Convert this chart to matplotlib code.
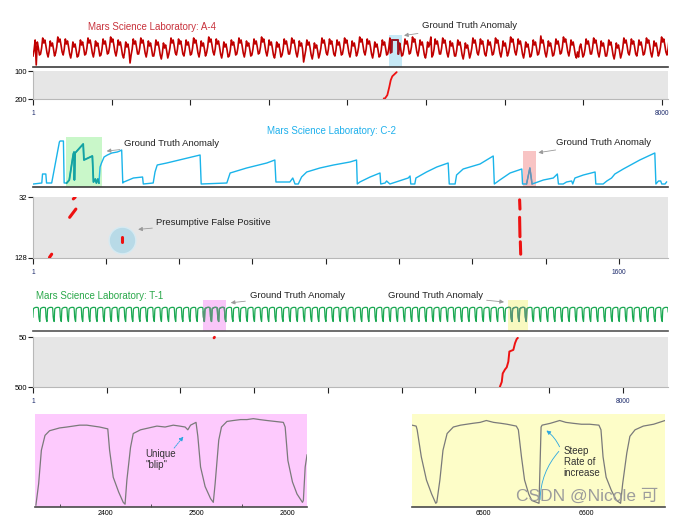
import numpy as np
import matplotlib.pyplot as plt

plt.rcParams['font.family'] = ['Liberation Sans', 'DejaVu Sans']

# ---------------- data ----------------
# A-4 (telemetry, one jagged cycle repeated, plus read spikes)
a4_xmax = 8078
a4_period = 96
a4_cycle = [11, 17, 27, 22, 25, 19, 12]
a4_shift = [0, 2, -1, 3, 1, -2, 0, 2, -1, 1, 3, 0, -2, 1, 2, -1, 0, -3, 2, 1]
a4_spike_t = [48, 1235, 3448, 5060, 6459, 6934]
a4_spike_level = [2, 4, 5, 30, 31, 10]
a4_anom_t = [4548, 4562, 4566, 4644, 4648, 4662]
a4_anom_level = [14, 15, 27, 27, 13, 20]
a4_span = [4529, 4691]
a4_det_t = [4462, 4478, 4508, 4533, 4551, 4571, 4627]
a4_det_val = [198, 198, 186, 157, 133, 119, 104]
a4_ticks = [1, 1000, 2000, 3000, 4000, 5000, 6000, 7000, 8000]

# C-2
c2_xmax = 1734
c2_before_t = [2, 25, 27, 36, 38, 52, 73, 75, 84, 86]
c2_before_l = [3, 4, 13, 13, 4, 4, 45, 46, 46, 4]
c2_anom_t = [93, 100, 111, 113, 114, 116, 138, 140, 163, 166, 171, 174, 178, 181]
c2_anom_l = [4, 7, 33, 35, 7, 34, 43, 27, 31, 5, 8, 4, 8, 4]
c2_after_t = [184, 188, 195, 204, 216, 231, 238, 243, 246, 249,
              275, 300, 302, 329, 334, 340, 366, 457, 460, 530,
              539, 548, 584, 639, 661, 664, 702, 710, 716, 725,
              734, 748, 784, 821, 866, 884, 886, 893, 921, 948,
              950, 962, 966, 975, 1025, 1030, 1032, 1043, 1046, 1075,
              1103, 1134, 1137, 1153, 1157, 1175, 1221, 1257, 1260, 1275,
              1303, 1335, 1337, 1348, 1357, 1363, 1371, 1394, 1421, 1432,
              1435, 1448, 1457, 1471, 1474, 1480, 1503, 1535, 1537, 1557,
              1567, 1580, 1589, 1612, 1657, 1698, 1701, 1708, 1714, 1717,
              1726, 1730]
c2_after_l = [20, 24, 30, 32, 34, 35, 36, 37, 4, 5,
              9, 10, 3, 4, 15, 22, 24, 32, 3, 4,
              14, 15, 19, 24, 27, 5, 5, 9, 3, 3,
              10, 15, 19, 22, 25, 27, 3, 5, 10, 14,
              3, 4, 6, 3, 9, 11, 3, 3, 9, 15,
              20, 24, 3, 3, 12, 18, 23, 31, 3, 7,
              14, 18, 3, 3, 19, 3, 4, 7, 9, 13,
              3, 3, 5, 6, 3, 9, 12, 15, 3, 3,
              6, 9, 13, 18, 27, 34, 3, 6, 6, 3,
              3, 5]
c2_spike_t = [1348, 1357, 1363]
c2_spike_l = [3, 19, 3]
c2_span_green = [91, 189]
c2_span_red = [1338, 1374]
c2_det_t0 = [46, 101, 111, 245, 1329, 1329, 1331]
c2_det_t1 = [52, 118, 116, 245, 1330, 1330, 1332]
c2_det_v0 = [127, 64, 35, 95, 36.5, 64, 102.5]
c2_det_v1 = [122, 51, 32.5, 103, 51, 94.5, 122]
c2_fp_t, c2_fp_v = 245, 99
c2_ticks = [1, 200, 400, 600, 800, 1000, 1200, 1400, 1600]

# T-1 (one cycle, repeated)
t1_xmax = 8611
t1_start = -3
t1_period = 97
t1_cycle_dt = [0, 2, 6, 9, 17, 35, 53, 70, 76, 80, 83, 88, 94]
t1_cycle_lv = [3, 29, 64, 79, 83, 87, 88, 87, 84, 61, 32, 16, 5]
t1_span_pink = [2308, 2616]
t1_span_yellow = [6446, 6714]
t1_dot_t = [2455, 2462]
t1_dot_v = [58, 52]
t1_det_t = [6334, 6357, 6370, 6401, 6424, 6446, 6460, 6492, 6514, 6537, 6560, 6573]
t1_det_v = [494, 454, 378, 342, 323, 272, 181, 172, 166, 105, 68, 59]
t1_ticks = [1, 1000, 2000, 3000, 4000, 5000, 6000, 7000, 8000]

# zoomed panels
pink_t = [2324, 2327, 2330, 2334, 2339, 2350, 2358, 2365, 2372, 2380,
          2387, 2394, 2403, 2405, 2409, 2415, 2420, 2422, 2424, 2428,
          2431, 2439, 2448, 2457, 2466, 2475, 2482, 2488, 2491, 2494,
          2500, 2502, 2505, 2510, 2516, 2519, 2521, 2525, 2528, 2534,
          2541, 2549, 2556, 2563, 2570, 2578, 2587, 2596, 2598, 2601,
          2606, 2611, 2617, 2618, 2620, 2622]
pink_l = [2, 25, 61, 77, 82, 85, 86, 87, 88, 88,
          87, 86, 84, 61, 32, 16, 5, 3, 29, 64,
          79, 83, 85, 87, 86, 88, 87, 86, 83, 88,
          91, 76, 43, 22, 9, 5, 25, 72, 86, 92,
          93, 94, 94, 95, 94, 93, 92, 91, 86, 50,
          27, 14, 5, 7, 43, 56]
yel_t = [6431, 6435, 6436, 6440, 6445, 6450, 6454, 6455, 6458, 6461,
         6465, 6471, 6478, 6484, 6490, 6497, 6503, 6510, 6517, 6523,
         6532, 6534, 6537, 6540, 6544, 6547, 6554, 6556, 6557, 6565,
         6574, 6580, 6587, 6595, 6603, 6612, 6614, 6616, 6619, 6624,
         6629, 6633, 6635, 6639, 6642, 6647, 6655, 6665, 6676]
yel_l = [88, 87, 83, 54, 29, 14, 4, 5, 29, 61,
         79, 86, 88, 89, 90, 91, 93, 91, 90, 89,
         87, 83, 54, 29, 14, 7, 4, 86, 88, 90,
         93, 91, 90, 89, 89, 88, 83, 54, 32, 18,
         7, 4, 25, 58, 76, 83, 87, 89, 93]

# ---------------- figure ----------------
W, H = 685, 516
fig = plt.figure(figsize=(W / 100, H / 100), dpi=100)


def add_px(x0, y0, x1, y1):
    return fig.add_axes([x0 / W, 1 - y1 / H, (x1 - x0) / W, (y1 - y0) / H])


def signal_axes(ax, xmax, ylo, yhi):
    ax.set_xlim(1, xmax)
    ax.set_ylim(ylo, yhi)
    for s in ['top', 'left', 'right']:
        ax.spines[s].set_visible(False)
    ax.spines['bottom'].set_color('#3c3c3c')
    ax.spines['bottom'].set_linewidth(1.2)
    ax.set_xticks([])
    ax.set_yticks([])
    ax.patch.set_alpha(0)


def band_axes(ax, xmax, ylo, yhi, ticks, last_label):
    ax.set_facecolor('#e6e6e6')
    ax.set_xlim(1, xmax)
    ax.set_ylim(yhi, ylo)
    for s in ['top', 'right']:
        ax.spines[s].set_visible(False)
    for s in ['left', 'bottom']:
        ax.spines[s].set_color('#b8b8b8')
        ax.spines[s].set_linewidth(0.8)
    ax.set_yticks([ylo, yhi])
    ax.set_yticklabels([str(ylo), str(yhi)], fontsize=5.5)
    ax.set_xticks(ticks)
    labels = [''] * len(ticks)
    labels[0] = '1'
    labels[-1] = last_label
    ax.set_xticklabels(labels, fontsize=4.8, color='#1c2a6b')
    ax.tick_params(axis='y', length=3.5, width=0.8, color='#222222', pad=1)
    ax.tick_params(axis='x', length=4, width=0.8, color='#222222', pad=4)


arrow = dict(arrowstyle='-|>', color='#9a9a9a', lw=0.6, mutation_scale=6,
             shrinkA=1, shrinkB=0)


def fpx(x, y):
    return (x, H - y)


# ---- A-4 ----
ax = add_px(33, 31, 668, 67)
signal_axes(ax, a4_xmax, 0, 36)
n = int(np.ceil(a4_xmax / a4_period)) + 1
steps = len(a4_cycle)
t = 1 + np.arange(n * steps) * a4_period / steps
y = (np.tile(a4_cycle, n) + np.repeat(np.resize(a4_shift, n), steps)).astype(float)
for st, sv in zip(a4_spike_t, a4_spike_level):
    y[np.argmin(np.abs(t - st))] = sv
before = t < a4_anom_t[0]
after = t > a4_anom_t[-1]
ax.axvspan(a4_span[0], a4_span[1], ymin=0, ymax=0.89, color='#c6e9f6', lw=0, zorder=0)
ax.plot(np.r_[t[before], a4_anom_t, t[after]], np.r_[y[before], a4_anom_level, y[after]],
        color='#c00000', lw=1.2)
ax.plot(a4_anom_t[1:-1], a4_anom_level[1:-1], color='#8e1c2c', lw=1.3)
ax.annotate('Ground Truth Anomaly', xy=(4720, 0.875), xycoords=('data', 'axes fraction'),
            xytext=fpx(422, 26), textcoords='figure pixels', fontsize=6.8,
            color='#222222', va='center', ha='left', arrowprops=arrow)
fig.text(88 / W, 1 - 27 / H, 'Mars Science Laboratory: A-4', fontsize=7,
         color='#c8323c', va='center', ha='left')

bx = add_px(33, 71, 668, 99)
band_axes(bx, a4_xmax, 100, 200, a4_ticks, '8000')
bx.plot(a4_det_t, a4_det_val, color='#ee1111', lw=1.3, solid_capstyle='round')

# ---- C-2 ----
ax = add_px(33, 135, 668, 187)
signal_axes(ax, c2_xmax, 0, 52)
ax.axvspan(c2_span_green[0], c2_span_green[1], ymin=0, ymax=0.97, color='#c9f7c9', lw=0, zorder=0)
ax.axvspan(c2_span_red[0], c2_span_red[1], ymin=0, ymax=0.69, color='#f8c4c4', lw=0, zorder=0)
ax.plot(c2_before_t + c2_anom_t + c2_after_t, c2_before_l + c2_anom_l + c2_after_l,
        color='#1ab4ea', lw=1.0)
ax.plot(c2_anom_t, c2_anom_l, color='#15a3a0', lw=1.3)
ax.plot(c2_spike_t, c2_spike_l, color='#6f8fb0', lw=1.0)
ax.annotate('Ground Truth Anomaly', xy=(202, 0.69), xycoords=('data', 'axes fraction'),
            xytext=fpx(124, 143.5), textcoords='figure pixels', fontsize=6.8,
            color='#222222', va='center', ha='left', arrowprops=arrow)
ax.annotate('Ground Truth Anomaly', xy=(1380, 0.66), xycoords=('data', 'axes fraction'),
            xytext=fpx(556.5, 142.5), textcoords='figure pixels', fontsize=6.8,
            color='#222222', va='center', ha='left', arrowprops=arrow)
fig.text(267 / W, 1 - 131 / H, 'Mars Science Laboratory: C-2', fontsize=7,
         color='#1fb0ec', va='center', ha='left')

bx = add_px(33, 197, 668, 258)
band_axes(bx, c2_xmax, 32, 128, c2_ticks, '1600')
bx.scatter([c2_fp_t], [c2_fp_v], s=370, color='#b8dae7', edgecolor='#d6eaf2', lw=1, zorder=2)
for t0, t1, v0, v1 in zip(c2_det_t0, c2_det_t1, c2_det_v0, c2_det_v1):
    bx.plot([t0, t1], [v0, v1], color='#ee1111', lw=2.2, solid_capstyle='round', zorder=3)
bx.annotate('Presumptive False Positive', xy=(288, 83), xycoords='data',
            xytext=fpx(156.5, 222.5), textcoords='figure pixels', fontsize=6.8,
            color='#222222', va='center', ha='left', arrowprops=arrow)

# ---- T-1 ----
ax = add_px(33, 300, 668, 331)
signal_axes(ax, t1_xmax, -54, 132)
ax.spines['bottom'].set_color('#555555')
n = int((t1_xmax - t1_start) / t1_period) + 2
t = (t1_start + np.arange(n)[:, None] * t1_period + np.array(t1_cycle_dt)[None, :]).ravel()
y = np.tile(t1_cycle_lv, n).astype(float)
ax.axvspan(t1_span_pink[0], t1_span_pink[1], color='#f9c6f9', lw=0, zorder=0)
ax.axvspan(t1_span_yellow[0], t1_span_yellow[1], color='#f9f9c0', lw=0, zorder=0)
ax.plot(t, y, color='#1aa852', lw=0.9)
for span in [t1_span_pink, t1_span_yellow]:
    m = (t >= span[0]) & (t <= span[1])
    ax.plot(t, np.where(m, y, np.nan), color='#5b9378', lw=0.9)
ax.annotate('Ground Truth Anomaly', xy=(2682, 0.91), xycoords=('data', 'axes fraction'),
            xytext=fpx(249.5, 295.5), textcoords='figure pixels', fontsize=6.8,
            color='#222222', va='center', ha='left', arrowprops=arrow)
ax.annotate('Ground Truth Anomaly', xy=(6388, 0.935), xycoords=('data', 'axes fraction'),
            xytext=fpx(387.5, 295), textcoords='figure pixels', fontsize=6.8,
            color='#222222', va='center', ha='left', arrowprops=arrow)
fig.text(36 / W, 1 - 296 / H, 'Mars Science Laboratory: T-1', fontsize=7,
         color='#2aa84a', va='center', ha='left')

bx = add_px(33, 337, 668, 387)
band_axes(bx, t1_xmax, 50, 500, t1_ticks, '8000')
bx.plot(t1_dot_t, t1_dot_v, color='#ee1111', lw=2.0, solid_capstyle='round', clip_on=False)
bx.plot(t1_det_t, t1_det_v, color='#ee1111', lw=1.4)


# ---- zoomed panels ----
def zoom_axes(ax, color, xlim):
    ax.set_facecolor(color)
    ax.set_xlim(*xlim)
    ax.set_ylim(0, 100)
    for s in ['top', 'left', 'right']:
        ax.spines[s].set_visible(False)
    ax.spines['bottom'].set_color('#4a4a4a')
    ax.spines['bottom'].set_linewidth(1.2)
    ax.set_yticks([])
    ax.tick_params(axis='x', which='major', length=0, labelsize=5, pad=2.5)
    ax.tick_params(axis='x', which='minor', direction='in', length=2.5, width=0.6, color='#333333')


ax = add_px(35, 414, 307, 507)
zoom_axes(ax, '#fdcafd', (2323, 2622))
ax.set_xticks([2400, 2500, 2600])
ax.set_xticks([2350, 2450, 2550], minor=True)
ax.plot(pink_t, pink_l, color='#7a7a7a', lw=0.9)
ax.text(2444, 62, 'Unique\n"blip"', fontsize=7, color='#333333', va='top', ha='left',
        linespacing=1.1)
ax.annotate('', xy=(2488, 78), xytext=(2474, 61),
            arrowprops=dict(arrowstyle='-|>', color='#2aa6e0', lw=0.6, mutation_scale=6,
                            linestyle=(0, (2, 1))))

ax = add_px(412, 414, 665, 507)
zoom_axes(ax, '#fdfdc8', (6431, 6676))
ax.set_xticks([6500, 6600])
ax.plot(yel_t, yel_l, color='#7a7a7a', lw=0.9)
ax.text(6578, 66, 'Steep\nRate of\nincrease', fontsize=7, color='#333333', va='top',
        ha='left', linespacing=1.15)
ax.annotate('', xy=(6559, 84), xytext=(6575, 62),
            arrowprops=dict(arrowstyle='-|>', color='#2aa6e0', lw=0.6, mutation_scale=6,
                            connectionstyle='arc3,rad=0.15'))
ax.annotate('', xy=(6555, 5), xytext=(6575, 62),
            arrowprops=dict(arrowstyle='-', color='#2aa6e0', lw=0.6,
                            connectionstyle='arc3,rad=0.2'))

fig.text(516 / W, 1 - 496 / H, 'CSDN @Nicole 可', fontsize=12.5, color='#9c9c9c',
         va='center', ha='left', family=['Liberation Sans', 'Noto Sans CJK SC'])

fig.savefig('out.png', dpi=100)
